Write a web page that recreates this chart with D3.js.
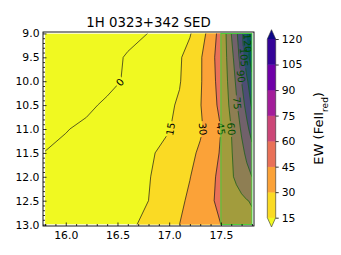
<!DOCTYPE html>
<html>
<head>
<meta charset="utf-8">
<script src="https://cdn.jsdelivr.net/npm/d3@7"></script>
<style>
  body { margin: 0; background: #fff; }
  text { font-family: "DejaVu Sans", sans-serif; }
</style>
</head>
<body>
<div id="chart"></div>
<script>
// grid: columns (x), rows (y), EW values per row
const xCols = [15.8, 16.0, 16.2, 16.4, 16.6, 16.8, 17.0, 17.1, 17.2, 17.3, 17.4, 17.5, 17.55, 17.6, 17.65, 17.7, 17.75, 17.8];
const yRows = [9.0, 9.5, 10.0, 10.5, 11.0, 11.5, 12.0, 12.5, 13.0];
const ewGrid = [
    [-20, -16, -12, -8, -4, 0.2, 7.0, 10.5, 14.0, 23.1, 36, 51.7, 60, 75, 87.5, 102, 120, 135],
    [-22, -16, -11, -4.5, 1.3, 6.3, 11.3, 13.8, 19.4, 28.2, 40, 52.5, 58.8, 70, 82.5, 97.5, 114, 128],
    [-20, -14, -9, -3.5, 1.8, 6.8, 11.8, 14.3, 20.5, 28.4, 39.2, 51.3, 57.5, 66.4, 77.5, 90, 102.5, 115],
    [-12, -7, -2.5, 2.1, 5.9, 9.7, 13.5, 16.3, 22.8, 29.3, 38.4, 49.1, 55.9, 63.8, 73.1, 83.6, 95, 107],
    [-4, -0.6, 2.4, 5.5, 8.5, 11.5, 14.5, 18.4, 23.2, 28.1, 35.6, 45, 52.5, 60, 68.3, 76.9, 86.3, 96],
    [0.3, 2.7, 5.4, 8.0, 10.7, 13.4, 18.4, 22.7, 27.0, 32.0, 38.9, 46.3, 52.5, 58.8, 65, 71.3, 77.9, 85],
    [2, 4.5, 6.9, 9.4, 11.8, 14.3, 21, 25.3, 29.6, 35.4, 41.4, 48.8, 53.4, 58.1, 62.5, 66.7, 70.8, 75],
    [3, 5.4, 7.8, 10.2, 12.6, 15, 23.3, 27.5, 32.2, 37.8, 43.3, 48.2, 50.5, 52.7, 55.0, 57.3, 59.5, 61],
    [4, 6.3, 8.6, 10.9, 13.3, 17.1, 25.7, 30, 33.8, 37.5, 41.3, 45, 47, 49, 51, 53, 55, 57]
];
const fillLevels = [15, 30, 45, 60, 75, 90, 105, 120];
const lineLevels = [0, 15, 30, 45, 60, 75, 90, 105, 120];
const xTicks = [16.0, 16.5, 17.0, 17.5];
const yTicks = [9.0, 9.5, 10.0, 10.5, 11.0, 11.5, 12.0, 12.5, 13.0];
const cbarTicks = [15, 30, 45, 60, 75, 90, 105, 120];
const shadedRange = [17.5, 17.8];

var W = 341, H = 255;
var m = { left: 43, right: 254, top: 32, bottom: 226 };

var svg = d3.select("#chart").append("svg")
    .attr("width", W)
    .attr("height", H);

var x = d3.scaleLinear().domain([15.78, 17.82]).range([m.left, m.right]);
var y = d3.scaleLinear().domain([8.97, 13.03]).range([m.top, m.bottom]);

// grid index -> data value (sample i sits at i + 0.5 in d3.contours space)
var gx = d3.scaleLinear().domain(xCols.map((d, i) => i + 0.5)).range(xCols);
var gy = d3.scaleLinear().domain(yRows.map((d, i) => i + 0.5)).range(yRows);
var proj = d3.geoTransform({
    point: function (px, py) { this.stream.point(x(gx(px)), y(gy(py))); }
});
var path = d3.geoPath(proj);

var nx = xCols.length, ny = yRows.length;
var flat = ewGrid.flat();

var under = d3.interpolatePlasma(1), over = d3.interpolatePlasma(0);
function bandColor(i) {
    if (i >= fillLevels.length - 1) return over;
    var lo = fillLevels[0], hi = fillLevels[fillLevels.length - 1];
    var mid = (fillLevels[i] + fillLevels[i + 1]) / 2;
    return d3.interpolatePlasma(1 - (mid - lo) / (hi - lo));
}

var defs = svg.append("defs");
defs.append("clipPath").attr("id", "dataClip")
    .append("rect")
    .attr("x", x(xCols[0])).attr("y", y(yRows[0]))
    .attr("width", x(xCols[nx - 1]) - x(xCols[0]))
    .attr("height", y(yRows[ny - 1]) - y(yRows[0]));

var plot = svg.append("g").attr("clip-path", "url(#dataClip)");

// below lowest level
plot.append("rect")
    .attr("x", x(xCols[0])).attr("y", y(yRows[0]))
    .attr("width", x(xCols[nx - 1]) - x(xCols[0]))
    .attr("height", y(yRows[ny - 1]) - y(yRows[0]))
    .attr("fill", under);

var bands = d3.contours().size([nx, ny]).thresholds(fillLevels)(flat);
plot.selectAll("path.band")
    .data(bands)
    .enter()
    .append("path")
    .attr("class", "band")
    .attr("d", path)
    .attr("fill", (d, i) => bandColor(i))
    .attr("stroke", (d, i) => bandColor(i))
    .attr("stroke-width", 0.3);

// contour lines + inline labels
var lines = d3.contours().size([nx, ny]).thresholds(lineLevels)(flat);

function findOnLine(contour, yTarget) {
    var best = null;
    contour.coordinates.forEach(poly => poly.forEach(ring => {
        for (let i = 0; i < ring.length - 1; i++) {
            let a = [gx(ring[i][0]), gy(ring[i][1])];
            let b = [gx(ring[i + 1][0]), gy(ring[i + 1][1])];
            if (a[1] === b[1] || (a[1] - yTarget) * (b[1] - yTarget) > 0) continue;
            let t = (yTarget - a[1]) / (b[1] - a[1]);
            let xv = a[0] + t * (b[0] - a[0]);
            if (xv <= xCols[0] + 0.01 || xv >= xCols[nx - 1] - 0.01) continue;
            if (!best) best = { x: xv, y: yTarget, dx: x(b[0]) - x(a[0]), dy: y(b[1]) - y(a[1]) };
        }
    }));
    return best;
}

// where each label sits along its line (y in data units)
var labelY = { 0: 10.02, 15: 11.0, 30: 11.0, 45: 11.0, 60: 11.0, 75: 10.46, 90: 9.9, 105: 9.5, 120: 9.2 };
var labelFont = 10;
var labels = [];
lines.forEach(c => {
    var p = findOnLine(c, labelY[c.value]);
    if (!p) return;
    var ang = Math.atan2(p.dy, p.dx) * 180 / Math.PI;
    ang = ((ang + 90) % 180 + 180) % 180 - 90;
    labels.push({ text: String(c.value), px: x(p.x), py: y(p.y), ang: ang });
});

var mask = defs.append("mask").attr("id", "lblMask").attr("maskUnits", "userSpaceOnUse")
    .attr("x", 0).attr("y", 0).attr("width", W).attr("height", H);
mask.append("rect").attr("width", W).attr("height", H).attr("fill", "white");
labels.forEach(l => {
    var w = l.text.length * 0.64 * labelFont + 3;
    mask.append("rect")
        .attr("x", -w / 2).attr("y", -labelFont * 0.45)
        .attr("width", w).attr("height", labelFont * 0.9)
        .attr("transform", `translate(${l.px},${l.py}) rotate(${l.ang})`)
        .attr("fill", "black");
});

plot.append("g")
    .attr("mask", "url(#lblMask)")
    .selectAll("path")
    .data(lines)
    .enter()
    .append("path")
    .attr("d", path)
    .attr("fill", "none")
    .attr("stroke", "#1a1a1a")
    .attr("stroke-width", 0.7);

plot.selectAll("text.clabel")
    .data(labels)
    .enter()
    .append("text")
    .attr("class", "clabel")
    .attr("transform", d => `translate(${d.px},${d.py}) rotate(${d.ang})`)
    .attr("text-anchor", "middle")
    .attr("dy", "0.36em")
    .style("font-size", labelFont + "px")
    .attr("fill", "#000")
    .text(d => d.text);

// shaded band
svg.append("rect")
    .attr("x", x(shadedRange[0])).attr("y", y(yRows[0]))
    .attr("width", x(shadedRange[1]) - x(shadedRange[0]))
    .attr("height", y(yRows[ny - 1]) - y(yRows[0]))
    .attr("fill", "rgb(0,255,0)")
    .attr("fill-opacity", 0.3)
    .attr("stroke", "#45d43a")
    .attr("stroke-width", 1);

// axes, ticks pointing inward
function styleAxis(g) {
    g.select(".domain").remove();
    g.selectAll("line").attr("stroke", "#000").attr("stroke-width", 0.8);
    g.selectAll("text").attr("fill", "#000").style("font-size", "10.8px")
        .style("font-family", '"DejaVu Sans", sans-serif');
}
var xMinor = d3.range(158, 179).map(d => d / 10).filter(d => xTicks.indexOf(d) < 0);
var yMinor = d3.range(90, 131).map(d => d / 10).filter(d => yTicks.indexOf(d) < 0);

svg.append("g").attr("transform", `translate(0,${m.bottom})`)
    .call(d3.axisBottom(x).tickValues(xTicks).tickFormat(d3.format(".1f")).tickSize(-3.5).tickPadding(5))
    .call(styleAxis);
svg.append("g").attr("transform", `translate(0,${m.bottom})`)
    .call(d3.axisBottom(x).tickValues(xMinor).tickFormat("").tickSize(-2))
    .call(styleAxis);
svg.append("g").attr("transform", `translate(${m.left},0)`)
    .call(d3.axisLeft(y).tickValues(yTicks).tickFormat(d3.format(".1f")).tickSize(-3.5).tickPadding(3.5))
    .call(styleAxis);
svg.append("g").attr("transform", `translate(${m.left},0)`)
    .call(d3.axisLeft(y).tickValues(yMinor).tickFormat("").tickSize(-2))
    .call(styleAxis);

svg.append("rect")
    .attr("x", m.left).attr("y", m.top)
    .attr("width", m.right - m.left).attr("height", m.bottom - m.top)
    .attr("fill", "none").attr("stroke", "#000").attr("stroke-width", 0.9);

svg.append("text")
    .attr("x", (m.left + m.right) / 2).attr("y", 26.5)
    .attr("text-anchor", "middle")
    .style("font-size", "13.3px")
    .text("1H 0323+342 SED");

// colorbar
var cb = { x0: 267.3, x1: 275.7, top: 39, bottom: 217.7, tipTop: 29.7, tipBottom: 227 };
var cy = d3.scaleLinear().domain([fillLevels[0], fillLevels[fillLevels.length - 1]]).range([cb.bottom, cb.top]);
var cmid = (cb.x0 + cb.x1) / 2;
var cbg = svg.append("g");
cbg.selectAll("rect")
    .data(fillLevels.slice(0, -1))
    .enter()
    .append("rect")
    .attr("x", cb.x0)
    .attr("y", (d, i) => cy(fillLevels[i + 1]))
    .attr("width", cb.x1 - cb.x0)
    .attr("height", (d, i) => cy(fillLevels[i]) - cy(fillLevels[i + 1]) + 0.3)
    .attr("fill", (d, i) => bandColor(i));
cbg.append("path")
    .attr("d", `M${cb.x0},${cb.top}L${cmid},${cb.tipTop}L${cb.x1},${cb.top}Z`)
    .attr("fill", over);
cbg.append("path")
    .attr("d", `M${cb.x0},${cb.bottom}L${cmid},${cb.tipBottom}L${cb.x1},${cb.bottom}Z`)
    .attr("fill", under);
cbg.append("path")
    .attr("d", `M${cb.x0},${cb.top}L${cmid},${cb.tipTop}L${cb.x1},${cb.top}L${cb.x1},${cb.bottom}L${cmid},${cb.tipBottom}L${cb.x0},${cb.bottom}Z`)
    .attr("fill", "none").attr("stroke", "#333").attr("stroke-width", 0.6);

svg.append("g").attr("transform", `translate(${cb.x1},0)`)
    .call(d3.axisRight(cy).tickValues(cbarTicks).tickFormat(d3.format("d")).tickSize(3).tickPadding(3))
    .call(styleAxis);

var cbl = svg.append("text")
    .attr("transform", `translate(323,${(cb.top + cb.bottom) / 2}) rotate(-90)`)
    .attr("text-anchor", "middle")
    .style("font-size", "13px");
cbl.append("tspan").text("EW (FeII");
cbl.append("tspan").attr("baseline-shift", "sub").style("font-size", "9px").text("red");
cbl.append("tspan").text(")");
</script>
</body>
</html>
